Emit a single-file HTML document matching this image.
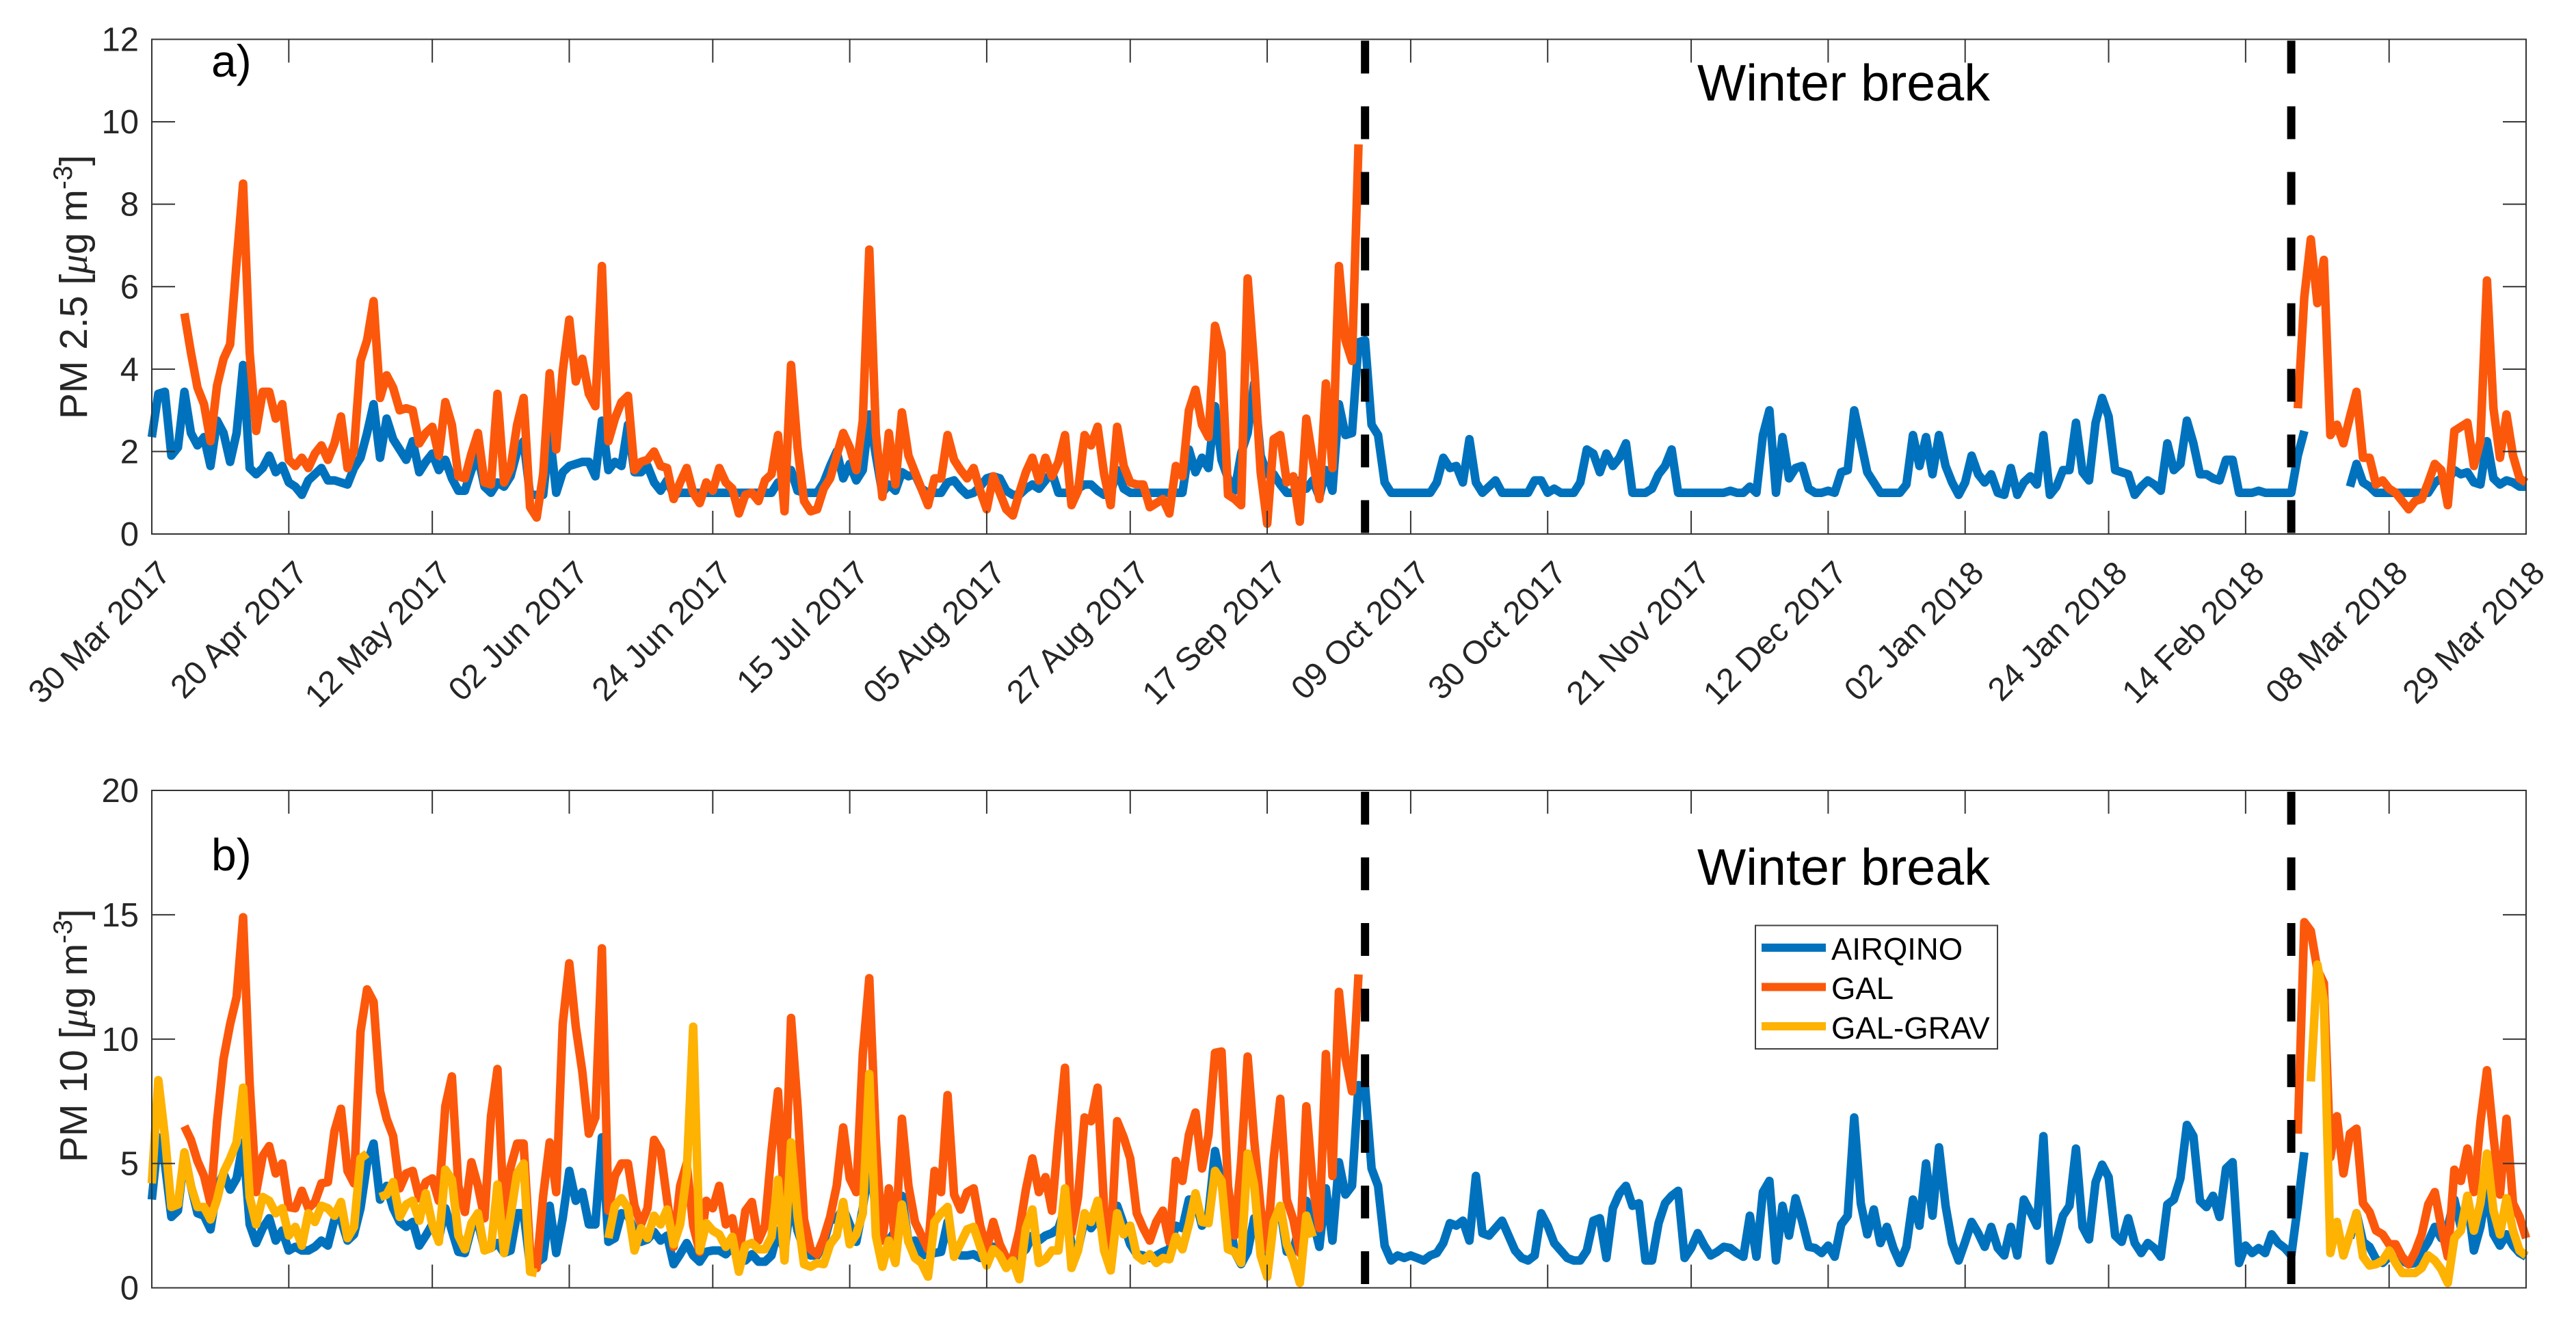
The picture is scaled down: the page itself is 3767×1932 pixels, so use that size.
<!DOCTYPE html>
<html lang="en">
<head>
<meta charset="utf-8">
<title>PM 2.5 and PM 10 time series</title>
<style>
html,body{margin:0;padding:0;background:#fff;width:3767px;height:1932px;overflow:hidden}
svg{display:block;font-family:"Liberation Sans",sans-serif}
</style>
</head>
<body>
<svg id="chart" xmlns="http://www.w3.org/2000/svg" width="3767" height="1932" viewBox="0 0 3767 1932">
  <rect width="3767" height="1932" fill="#fff"/>
  <g id="panel-a"></g>
  <g id="panel-b"></g>
  <text transform="translate(127,613) rotate(-90)" font-size="57" fill="#262626">PM 2.5 [<tspan font-family="'Liberation Serif',serif" font-style="italic">μ</tspan>g m<tspan dy="-22" font-size="39">-3</tspan><tspan dy="22">]</tspan></text>
  <text transform="translate(127,1700) rotate(-90)" font-size="57" fill="#262626">PM 10 [<tspan font-family="'Liberation Serif',serif" font-style="italic">μ</tspan>g m<tspan dy="-22" font-size="39">-3</tspan><tspan dy="22">]</tspan></text>
  <text x="309" y="112" font-size="66" fill="#000">a)</text>
  <text x="309" y="1273" font-size="66" fill="#000">b)</text>
  <text x="2482" y="147" font-size="75.5" fill="#000">Winter break</text>
  <text x="2482" y="1294" font-size="75.5" fill="#000">Winter break</text>
  <g>
    <rect x="2567" y="1353.5" width="354" height="180.5" fill="#fff" stroke="#404040" stroke-width="2"/>
    <line x1="2576" x2="2670" y1="1386" y2="1386" stroke="#0072BD" stroke-width="12"/>
    <text x="2678" y="1403.5" font-size="45.5" fill="#000">AIRQINO</text>
    <line x1="2576" x2="2670" y1="1443.5" y2="1443.5" stroke="#FC580C" stroke-width="12"/>
    <text x="2678" y="1461" font-size="45.5" fill="#000">GAL</text>
    <line x1="2576" x2="2670" y1="1501" y2="1501" stroke="#FEB201" stroke-width="12"/>
    <text x="2678" y="1519" font-size="45.5" fill="#000">GAL-GRAV</text>
  </g>
</svg>
<script>
// ---- Data: daily values, each segment begins on the day given by its start-day constant ----
const xTickDays = [0,21,43,64,86,107,128,150,171,193,214,236,257,278,300,321,343,364];
const xTickLabels = ["30 Mar 2017","20 Apr 2017","12 May 2017","02 Jun 2017","24 Jun 2017","15 Jul 2017","05 Aug 2017","27 Aug 2017","17 Sep 2017","09 Oct 2017","30 Oct 2017","21 Nov 2017","12 Dec 2017","02 Jan 2018","24 Jan 2018","14 Feb 2018","08 Mar 2018","29 Mar 2018"];
const pm25YTicks = [0,2,4,6,8,10,12];
const pm10YTicks = [0,5,10,15,20];
const winterBreakDays = [186,328];

const pm25AirqinoFirstStart = 0;
const pm25AirqinoFirst = [
2.35,3.4,3.45,1.9,2.1,3.45,2.45,2.15,2.35,1.65,
2.75,2.45,1.75,2.45,4.1,1.6,1.45,1.6,1.9,1.5,
1.65,1.25,1.15,0.95,1.3,1.45,1.6,1.3,1.3,1.25,
1.2,1.6,1.85,2.45,3.15,1.85,2.8,2.3,2.05,1.8,
2.25,1.5,1.75,1.95,1.55,1.8,1.35,1.05,1.05,1.55,
1.9,1.15,1.0,1.25,1.15,1.4,2.0,2.25,0.95,0.95,
0.95,2.45,1.0,1.5,1.65,1.7,1.75,1.75,1.4,2.75,
1.55,1.75,1.65,2.65,1.5,1.5,1.65,1.25,1.05,1.3,
0.95,1,1,1,1,1,1,1,1,1,
1,1,1,1,1,1,1.25,1.3,1.55,1.05,
1,1,1,1.25,1.65,2.0,1.35,1.7,1.3,1.55,
2.9,1.9,1.0,1.2,1.05,1.5,1.4,1.45,1.1,1.0,
1,1,1.25,1.3,1.1,0.95,1,1.15,1.35,1.4,
1.35,1.05,0.95,0.95,1.1,1.2,1.1,1.3,1.5,1,
1,1,1.1,1.2,1.2,1.05,0.95,1,1.55,1.1,
1,1,1,1,1,1,1,1,1,2.05,
1.5,1.85,1.6,3.1,1.8,1.35,1.05,1.95,2.45,3.65,
1.9,1.45,1.45,1.2,1,1,1.3,1.1,1.3,0.9,
1.55,1.05,3.15,2.4,2.45,4.65,4.7,2.65,2.4,1.25,
1,1,1,1,1,1,1,1.25,1.85,1.6,
1.65,1.25,2.3,1.25,1,1.15,1.3,1,1,1,
1,1,1.3,1.3,1,1.1,1,1,1,1.25,
2.05,1.95,1.5,1.95,1.65,1.85,2.2,1,1,1,
1.1,1.45,1.65,2.05,1,1,1,1,1,1,
1,1,1.05,1,1,1.15,1,2.4,3.0,1,
2.35,1.35,1.6,1.65,1.1,1,1,1.05,1,1.5,
1.55,3.0,2.25,1.5,1.25,1,1,1,1,1.2,
2.4,1.65,2.35,1.45,2.4,1.65,1.25,0.95,1.25,1.9,
1.45,1.25,1.45,1,0.95,1.6,0.95,1.25,1.4,1.2,
2.4,0.95,1.15,1.55,1.55,2.7,1.5,1.3,2.7,3.3,
2.85,1.55,1.5,1.45,0.95,1.15,1.3,1.2,1.05,2.2,
1.55,1.7,2.75,2.2,1.45,1.45,1.35,1.3,1.8,1.8,
1,1,1,1.05,1,1,1,1,1,1.9,
2.5];
const pm25AirqinoSecondStart = 337;
const pm25AirqinoSecond = [
1.15,1.7,1.25,1.15,1,1,1,1,1,1,1,1,1,
1.25,1.35,1.3,1.55,1.45,1.5,1.25,1.2,2.25,1.35,
1.2,1.3,1.25,1.15,1.15];

const pm25GalFirstStart = 5;
const pm25GalFirst = [
5.35,4.4,3.55,3.15,2.25,
3.6,4.25,4.6,6.6,8.5,4.4,2.5,3.45,3.45,2.8,
3.15,1.8,1.65,1.85,1.6,1.95,2.15,1.8,2.2,2.85,
1.6,2.05,4.2,4.7,5.65,3.3,3.85,3.55,3.0,3.05,
3.0,2.2,2.45,2.6,1.9,3.2,2.65,1.4,1.35,1.95,
2.45,1.25,1.2,3.4,1.25,1.6,2.65,3.3,0.65,0.4,
1.45,3.9,2.05,3.95,5.2,3.7,4.25,3.4,3.1,6.5,
2.25,2.8,3.2,3.35,1.55,1.75,1.8,2.0,1.65,1.6,
0.85,1.25,1.6,1.0,0.75,1.25,1.05,1.6,1.25,1.1,
0.5,0.95,1.0,0.8,1.3,1.45,2.4,0.55,4.1,2.1,
0.8,0.55,0.6,1.1,1.35,1.9,2.45,2.1,1.55,2.75,
6.9,2.45,0.9,2.45,1.2,2.95,1.9,1.5,1.1,0.7,
1.35,1.35,2.4,1.8,1.55,1.35,1.6,1.05,0.6,1.4,
1.0,0.6,0.45,1.0,1.5,1.85,1.3,1.85,1.4,1.75,
2.4,0.7,1.05,2.4,2.15,2.6,1.45,0.7,2.6,1.65,
1.25,1.2,1.2,0.65,0.75,0.85,0.5,1.65,1.4,3.0,
3.5,2.65,2.35,5.05,4.4,0.95,0.85,0.7,6.2,4.1,
1.5,0.25,2.3,2.4,1.25,1.4,0.3,2.8,1.8,0.85,
3.65,1.6,6.5,4.7,4.2,9.45];
const pm25GalSecondStart = 329;
const pm25GalSecond = [
3.05,5.75,7.15,5.6,6.65,2.4,2.65,2.2,2.85,3.45,
1.85,1.85,1.2,1.3,1.1,1.0,0.8,0.6,0.8,0.85,
1.25,1.7,1.55,0.7,2.5,2.6,2.7,1.65,2.25,6.15,
3.05,1.85,2.9,1.9,1.35,1.25];

const pm10AirqinoFirstStart = 0;
const pm10AirqinoFirst = [
3.55,6.05,5.0,2.85,3.1,5.4,4.1,3.0,2.9,2.35,
4.0,4.6,3.95,4.4,5.85,2.55,1.8,2.4,2.8,1.9,
2.3,1.5,1.65,1.5,1.5,1.65,1.9,1.7,2.75,2.75,
1.9,2.15,3.2,5.0,5.8,3.55,4.1,3.2,2.65,2.45,
2.65,1.7,2.1,2.55,2.0,3.2,2.3,1.45,1.4,2.4,
2.65,1.55,1.6,1.8,1.4,1.5,3.0,3.0,0.9,1.0,
1.2,3.3,1.4,2.8,4.7,3.5,3.85,2.55,2.55,6.05,
1.85,2.0,3.0,2.9,2.3,1.85,1.95,2.25,1.9,2.1,
0.95,1.35,1.8,1.3,1.05,1.45,1.5,1.5,1.35,1.65,
1.1,1.1,1.35,1.05,1.05,1.3,2.3,1.5,3.55,2.3,
1.55,1.3,1.3,1.8,2.75,2.75,3.2,2.55,1.85,3.2,
5,3.2,1.9,1.9,2.3,3.7,1.85,1.9,1.3,1.35,
1.4,1.45,2.65,1.45,1.3,1.3,1.35,1.2,1.55,1.65,
1.35,1.1,1.1,1.3,1.55,2.1,1.9,2.1,2.2,2.4,
3.2,1.75,1.55,2.75,2.4,2.75,2.3,2.1,3.3,2.55,
1.75,1.35,1.3,1.2,1.3,1.45,1.55,2.5,2.4,3.55,
3.55,2.5,2.95,5.5,4.2,3.2,1.45,0.95,1.45,2.8,
1.9,1.4,2.8,3.2,1.45,1.45,2.6,3.5,2.75,1.65,
4.0,1.9,5.05,3.75,4.1,8.15,8.1,4.8,4.1,1.7,
1.1,1.3,1.2,1.3,1.2,1.1,1.3,1.4,1.8,2.6,
2.5,2.7,1.9,4.5,2.2,2.1,2.4,2.7,2.1,1.5,
1.2,1.1,1.3,3.0,2.5,1.8,1.5,1.2,1.1,1.1,
1.5,2.7,2.8,1.2,3.2,3.8,4.1,3.3,3.4,1.1,
1.1,2.6,3.4,3.7,3.9,1.2,1.6,2.2,1.7,1.3,
1.45,1.65,1.6,1.4,1.25,2.9,1.25,3.85,4.3,1.1,
3.3,2.1,3.6,2.7,1.65,1.6,1.4,1.7,1.25,2.55,
2.9,6.85,3.4,2.15,3.15,1.8,2.45,1.6,1.0,1.65,
3.55,2.5,5.0,2.9,5.65,3.3,1.8,1.1,1.85,2.65,
2.2,1.65,2.45,1.6,1.3,2.45,1.3,3.55,3.05,2.5,
6.1,1.1,1.85,2.9,3.3,5.6,2.45,1.95,4.25,4.95,
4.45,2.1,1.85,2.8,1.8,1.4,1.8,1.6,1.25,3.35,
3.55,4.4,6.55,6.1,3.5,3.25,3.7,2.85,4.8,5.05,
1.0,1.7,1.4,1.6,1.4,2.15,1.8,1.6,1.3,3.3,
5.45];
const pm10AirqinoSecondStart = 337;
const pm10AirqinoSecond = [
2.0,3.0,1.85,1.65,1.15,1.0,1.25,1.15,1.1,0.95,1.0,1.45,1.85,
2.45,2.0,2.45,3.55,2.45,3.55,1.5,2.45,4.0,2.15,
1.7,2.15,1.7,1.4,1.25];

const pm10GalFirstStart = 5;
const pm10GalFirst = [
6.5,5.95,5.1,4.5,3.4,
6.7,9.2,10.6,11.7,14.9,8.2,3.85,5.3,5.7,4.6,
5.0,3.25,3.2,3.9,3.2,3.45,4.2,4.25,6.3,7.2,
4.7,4.2,10.3,12.0,11.5,7.9,6.8,6.1,4.0,4.6,
4.7,3.6,4.25,4.4,3.5,7.3,8.5,4.1,3.05,5.05,
4.1,2.8,6.9,8.8,2.75,4.85,5.8,5.8,1.4,0.8,
3.7,5.85,3.85,10.6,13.05,10.5,8.7,6.2,6.85,13.65,
3.1,4.5,5,5,3.3,2.55,3.2,5.95,5.5,3.55,
1.65,4.1,5,2.5,1.45,3.5,3.2,4.1,2.55,2.8,
1.3,3.1,3.45,1.9,2.5,5.5,7.9,3.2,10.85,7.3,
2.75,1.55,1.35,2.0,2.85,4.1,6.45,4.4,3.85,9.4,
12.45,5.95,1.9,4.0,1.9,6.8,4.1,2.65,2.1,1.55,
4.7,3.85,7.75,3.75,3.15,3.85,4.0,2.5,1.55,2.65,
1.75,1.2,1.2,2.3,3.95,5.2,3.85,4.45,3.1,6.15,
8.85,2.2,3.65,6.85,6.7,8.05,3.2,1.65,6.7,6.05,
5.2,3.0,2.4,1.9,2.65,3.1,1.85,5.1,4.3,6.15,
7.05,4.8,6.15,9.45,9.5,4.1,2.1,5.05,9.3,5.95,
3.2,1.55,5.2,7.6,3.55,2.75,1.4,7.3,4.1,2.4,
9.4,4.5,11.9,9.25,7.9,12.6];
const pm10GalSecondStart = 329;
const pm10GalSecond = [
6.2,14.7,14.35,12.8,12.25,5.25,6.9,4.6,6.2,6.4,
3.4,3.05,2.3,2.15,1.75,1.75,1.25,0.95,1.45,2.15,
3.35,3.85,2.45,1.25,4.75,4.3,5.6,3.85,6.65,8.75,
6.1,3.75,6.8,3.4,2.85,2.0];

const pm10GravFirstStart = 0;
const pm10GravFirst = [
4.2,8.35,6.1,3.25,3.35,5.45,4.1,3.25,3.25,2.75,
3.55,4.65,5.2,5.85,8.05,3.65,2.55,3.65,3.5,3.0,
3.2,2.1,2.45,1.7,3.0,2.65,3.3,3.2,2.9,3.45,
2.0,2.45,5.2,5.4];
const pm10GravSecondStart = 35;
const pm10GravSecond = [
3.65,3.75,4.25,2.85,3.35,3.5,2.7,3.8,2.55,1.85,
4.75,4.35,2.1,1.55,2.6,3.0,1.5,1.6,4.15,1.4,
2.9,4.6,5.0,0.65,0.6];
const pm10GravThirdStart = 70;
const pm10GravThird = [
2.0,3.3,3.6,3.2,1.5,2.4,2.0,2.9,2.55,3.15,
1.75,2.55,4.6,10.5,1.5,2.6,2.3,2.15,1.65,2.05,
0.65,1.7,1.8,1.55,1.55,2.05,4.35,1.1,5.85,2.9,
0.95,0.85,1.0,0.95,1.75,2.1,3.45,1.75,2.15,3.0,
8.6,2.1,0.85,1.9,1.0,3.35,1.85,1.2,1.0,0.45,
2.65,3.0,3.25,1.25,1.8,2.35,2.45,1.65,0.9,1.55,
1.3,0.8,1.1,0.35,2.4,3.15,1.0,1.15,1.5,1.5,
4.0,0.8,1.5,3.0,2.65,3.5,1.5,0.7,3.0,2.15,
2.5,1.3,1.1,1.35,1.0,1.2,1.15,2.05,1.55,2.55,
3.8,2.65,2.6,4.7,4.3,1.55,1.45,1.0,5.4,4.15,
1.3,0.45,2.65,3.3,1.75,1.1,0.2,2.9,2.05];
const pm10GravFourthStart = 331;
const pm10GravFourth = [
8.3,13.0,11.55,1.4,2.65,1.3,2.15,3.0,1.25,0.9,
0.95,1.1,1.5,1.0,0.6,0.6,0.6,0.8,1.3,1.1,
0.75,0.2,2.0,2.3,3.7,2.3,3.4,5.4,3.1,2.15,
3.6,2.3,1.5,1.3];

// ---- Axis geometry ----
const SVGNS = "http://www.w3.org/2000/svg";
const plotLeft = 222, plotRight = 3694, totalDays = 364;
const panelA = {top: 57.5, bottom: 781, max: 12};
const panelB = {top: 1156, bottom: 1883.5, max: 20};
const tickLength = 34;
const lineWidth = 12.5;
const colorAirqino = "#0072BD", colorGal = "#FC580C", colorGrav = "#FEB201", axisColor = "#333333";

function xScale(day){ return plotLeft + (plotRight - plotLeft) * day / totalDays; }
function yScale(panel, value){ return panel.bottom - (panel.bottom - panel.top) * value / panel.max; }

function make(tag, attrs, parent){
  const el = document.createElementNS(SVGNS, tag);
  for (const k in attrs) el.setAttribute(k, attrs[k]);
  parent.appendChild(el);
  return el;
}

function drawSeries(parent, panel, startDay, values, color, name){
  let d = "";
  values.forEach(function(v, i){
    d += (i ? "L" : "M") + xScale(startDay + i).toFixed(1) + " " + yScale(panel, v).toFixed(1);
  });
  const path = make("path", {d: d, fill: "none", stroke: color, "stroke-width": lineWidth, "stroke-linejoin": "round", "stroke-linecap": "butt"}, parent);
  
  
}

function drawFrame(parent, panel, yTicks, prefix, withLabels){
  xTickDays.forEach(function(day, i){
    const x = xScale(day);
    const tickBottom = make("line", {x1: x, x2: x, y1: panel.bottom, y2: panel.bottom - tickLength, stroke: axisColor, "stroke-width": 2}, parent);
    
    
    const tickTop = make("line", {x1: x, x2: x, y1: panel.top, y2: panel.top + tickLength, stroke: axisColor, "stroke-width": 2}, parent);
    
    
    if (withLabels) {
      const ax = x + 30, ay = 841;
      const label = make("text", {x: ax, y: ay, "text-anchor": "end", "font-size": 48, fill: "#262626", transform: "rotate(-45 " + ax + " " + ay + ")"}, parent);
      label.textContent = xTickLabels[i];
      
      
    }
  });
  yTicks.forEach(function(value){
    const y = yScale(panel, value);
    const tickLeft = make("line", {x1: plotLeft, x2: plotLeft + tickLength, y1: y, y2: y, stroke: axisColor, "stroke-width": 2}, parent);
    
    
    const tickRight = make("line", {x1: plotRight, x2: plotRight - tickLength, y1: y, y2: y, stroke: axisColor, "stroke-width": 2}, parent);
    
    
    const label = make("text", {x: 203, y: y + 17, "text-anchor": "end", "font-size": 49, fill: "#262626"}, parent);
    label.textContent = String(value);
    
    
  });
  const box = make("rect", {x: plotLeft, y: panel.top, width: plotRight - plotLeft, height: panel.bottom - panel.top, fill: "none", stroke: axisColor, "stroke-width": 2}, parent);
  
  
}

function drawBreaks(parent, panel, prefix){
  winterBreakDays.forEach(function(day){
    const x = xScale(day);
    const dash = make("line", {x1: x, x2: x, y1: panel.top + 2, y2: panel.bottom, stroke: "#000", "stroke-width": 12, "stroke-dasharray": "48 48"}, parent);
    
    
  });
}

const groupA = document.getElementById("panel-a");
const groupB = document.getElementById("panel-b");

drawSeries(groupA, panelA, pm25AirqinoFirstStart, pm25AirqinoFirst, colorAirqino, "pm25-airqino-line");
drawSeries(groupA, panelA, pm25AirqinoSecondStart, pm25AirqinoSecond, colorAirqino, "pm25-airqino-line");
drawSeries(groupA, panelA, pm25GalFirstStart, pm25GalFirst, colorGal, "pm25-gal-line");
drawSeries(groupA, panelA, pm25GalSecondStart, pm25GalSecond, colorGal, "pm25-gal-line");
drawFrame(groupA, panelA, pm25YTicks, "pm25", true);
drawBreaks(groupA, panelA, "pm25");

drawSeries(groupB, panelB, pm10AirqinoFirstStart, pm10AirqinoFirst, colorAirqino, "pm10-airqino-line");
drawSeries(groupB, panelB, pm10AirqinoSecondStart, pm10AirqinoSecond, colorAirqino, "pm10-airqino-line");
drawSeries(groupB, panelB, pm10GalFirstStart, pm10GalFirst, colorGal, "pm10-gal-line");
drawSeries(groupB, panelB, pm10GalSecondStart, pm10GalSecond, colorGal, "pm10-gal-line");
drawSeries(groupB, panelB, pm10GravFirstStart, pm10GravFirst, colorGrav, "pm10-gal-grav-line");
drawSeries(groupB, panelB, pm10GravSecondStart, pm10GravSecond, colorGrav, "pm10-gal-grav-line");
drawSeries(groupB, panelB, pm10GravThirdStart, pm10GravThird, colorGrav, "pm10-gal-grav-line");
drawSeries(groupB, panelB, pm10GravFourthStart, pm10GravFourth, colorGrav, "pm10-gal-grav-line");
drawFrame(groupB, panelB, pm10YTicks, "pm10", false);
drawBreaks(groupB, panelB, "pm10");
</script>
</body>
</html>
